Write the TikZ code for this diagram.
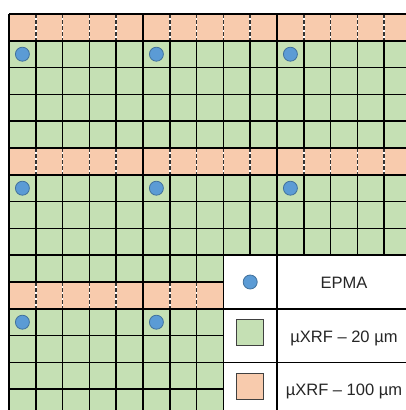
\documentclass[tikz,border=0pt]{standalone}
\usepackage{fontspec}
\setmainfont{Liberation Sans}
\definecolor{cellgreen}{HTML}{C5E0B4}
\definecolor{cellorange}{HTML}{F8CBAD}
\definecolor{spotfill}{HTML}{5B9BD5}
\definecolor{spotline}{HTML}{41719C}
\tikzset{gridline/.style={line width=1.5pt, black}}
\tikzset{cut/.style={line width=1.5pt, black!80, dash pattern=on 3.5pt off 2.5pt}}
\tikzset{spot/.style={draw=spotline, line width=0.8pt, fill=spotfill, circle, minimum size=14pt, inner sep=0pt}}
\tikzset{key/.style={draw=black!75, line width=0.8pt, minimum width=27pt, minimum height=26pt, inner sep=0pt}}
\tikzset{lab/.style={anchor=base, font=\fontsize{16.5}{20}\selectfont, text=black!85}}

\begin{document}
\begin{tikzpicture}[x=1pt,y=-1pt]
\useasboundingbox (0,0) rectangle (406,410);
\clip (0,0) rectangle (406,410);
\begin{scope}[shift={(9,14)}, x=26.8pt, y=-26.8pt]

%%% The cells

\foreach \b in {0,1,2} {
  \fill[cellorange] (0,5*\b) rectangle (15,5*\b+1);
  \fill[cellgreen] (0,5*\b+1) rectangle (15,5*\b+5);
}

\foreach \j in {0,...,15} {
  \pgfmathtruncatemacro\m{mod(\j,5)}
  \ifnum\m=0
    \draw[gridline] (\j,0) -- (\j,15);
  \else
    \foreach \b in {0,1,2} {
      \draw[gridline] (\j,5*\b+1) -- (\j,5*\b+5);
      \draw[white, line width=1.5pt] (\j,5*\b) -- (\j,5*\b+1);
      \draw[cut] (\j,5*\b) -- (\j,5*\b+1);
    }
  \fi
}

\foreach \k in {0,...,15}
  \draw[gridline] (0,\k) -- (15,\k);

\foreach \a in {0,1,2}
  \foreach \b in {0,1,2}
    \node[spot] (dot-\a-\b) at (5*\a+0.5, 5*\b+1.5) {};

%%% The legend

\fill[white] (8,9) rectangle (16,16);
\draw[gridline] (8,16) -- (8,9) -- (16,9);
\draw[gridline] (10,9) -- (10,16);
\draw[gridline] (8,11) -- (16,11);
\draw[gridline] (8,13) -- (16,13);

\node[spot] (k-epma) at (9,10) {};
\node[key, fill=cellgreen] (k-fine) at (9,11.87) {};
\node[key, fill=cellorange] (k-coarse) at (9,13.9) {};

\node[lab] (t-epma) at (12.5,10.235) {EPMA};
\node[lab] (t-fine) at (12.5,12.25) {µXRF – 20 µm};
\node[lab] (t-coarse) at (12.5,14.23) {µXRF – 100 µm};

\end{scope}
\end{tikzpicture}
\end{document}
